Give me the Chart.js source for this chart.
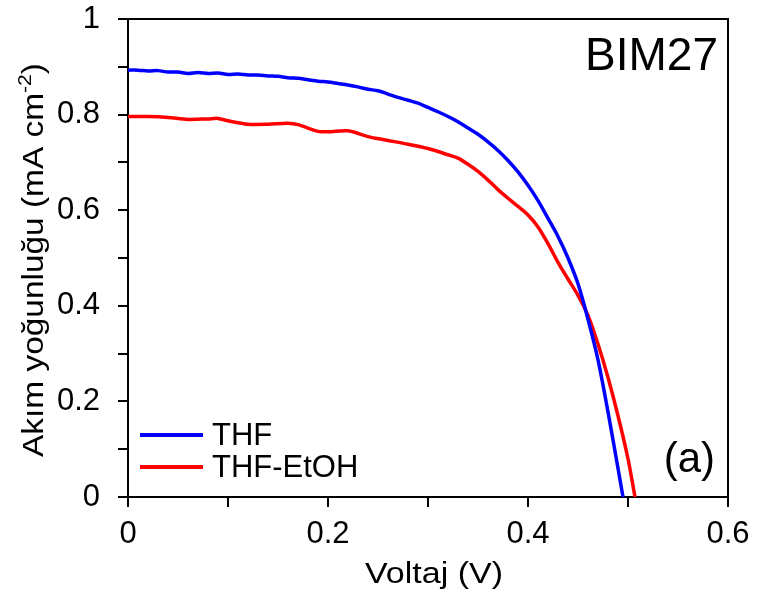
<!DOCTYPE html>
<html>
<head>
<meta charset="utf-8">
<script src="https://cdn.jsdelivr.net/npm/chart.js@4"></script>
<style>
  html, body { margin: 0; padding: 0; background: #fff; }
  canvas { display: block; }
</style>
</head>
<body>
<canvas id="ivChart" width="757" height="603"></canvas>
<script>
// J-V eğrileri
const thfV = [0, 0.01, 0.02, 0.03, 0.04, 0.05, 0.06, 0.07, 0.08, 0.09, 0.10, 0.11, 0.12, 0.13, 0.14, 0.15, 0.16, 0.17, 0.18, 0.19, 0.20, 0.21, 0.22, 0.23, 0.24, 0.25, 0.26, 0.27, 0.28, 0.29, 0.30, 0.31, 0.32, 0.33, 0.34, 0.35, 0.36, 0.37, 0.38, 0.39, 0.40, 0.41, 0.42, 0.43, 0.44, 0.45, 0.46, 0.47, 0.48, 0.49, 0.495];
const thfJ = [0.893, 0.893, 0.891, 0.892, 0.889, 0.889, 0.886, 0.888, 0.886, 0.887, 0.884, 0.885, 0.883, 0.883, 0.881, 0.880, 0.877, 0.876, 0.873, 0.870, 0.868, 0.865, 0.862, 0.858, 0.853, 0.850, 0.843, 0.836, 0.830, 0.824, 0.815, 0.806, 0.796, 0.785, 0.772, 0.759, 0.743, 0.725, 0.704, 0.680, 0.652, 0.620, 0.583, 0.545, 0.500, 0.446, 0.372, 0.287, 0.178, 0.060, 0];

const etohV = [0, 0.02, 0.04, 0.06, 0.08, 0.09, 0.10, 0.12, 0.14, 0.16, 0.17, 0.19, 0.20, 0.22, 0.24, 0.26, 0.28, 0.30, 0.32, 0.33, 0.34, 0.35, 0.36, 0.37, 0.38, 0.39, 0.40, 0.41, 0.42, 0.43, 0.44, 0.45, 0.46, 0.47, 0.48, 0.49, 0.50, 0.507];
const etohJ = [0.796, 0.796, 0.794, 0.790, 0.791, 0.792, 0.787, 0.780, 0.780, 0.782, 0.779, 0.765, 0.764, 0.766, 0.754, 0.746, 0.738, 0.729, 0.716, 0.709, 0.696, 0.681, 0.663, 0.643, 0.625, 0.608, 0.590, 0.565, 0.530, 0.491, 0.456, 0.422, 0.380, 0.320, 0.250, 0.170, 0.080, 0];

const seriesNames = ['THF', 'THF-EtOH'];
const seriesColors = ['#0000ff', '#ff0000'];

function toPoints(xs, ys) {
  return xs.map((x, i) => ({ x: x, y: ys[i] }));
}

const FONT = 'Arial, "Liberation Sans", sans-serif';

// metni verilen uzunluğa yatay olarak esnet
function stretchText(ctx, parts, cx, baseline, targetW) {
  let total = 0;
  parts.forEach(p => { ctx.font = p.size + 'px ' + FONT; p.w = ctx.measureText(p.t).width; total += p.w; });
  const k = targetW / total;
  ctx.save();
  ctx.translate(cx - targetW / 2, baseline);
  ctx.scale(k, 1);
  let x = 0;
  parts.forEach(p => {
    ctx.font = p.size + 'px ' + FONT;
    ctx.fillText(p.t, x, p.dy || 0);
    x += p.w;
  });
  ctx.restore();
}

// çerçeve, eksen başlıkları, lejant ve etiketler
const extras = {
  id: 'extras',
  afterDraw(chart) {
    const ctx = chart.ctx;
    const a = chart.chartArea;
    ctx.save();
    ctx.strokeStyle = '#000';
    ctx.lineWidth = 2;
    ctx.beginPath();
    ctx.moveTo(a.left, a.top);
    ctx.lineTo(a.right, a.top);
    ctx.lineTo(a.right, a.bottom);
    ctx.stroke();

    ctx.fillStyle = '#000';
    ctx.textAlign = 'left';
    ctx.textBaseline = 'alphabetic';

    // x başlığı
    stretchText(ctx, [{ t: 'Voltaj (V)', size: 30 }], 434, 583, 138);

    // y başlığı (üst simgeli)
    ctx.save();
    ctx.translate(43, 260);
    ctx.rotate(-Math.PI / 2);
    stretchText(ctx, [
      { t: 'Akım yoğunluğu (mA cm', size: 30 },
      { t: '-2', size: 19, dy: -12 },
      { t: ')', size: 30 }
    ], 0, 0, 394);
    ctx.restore();

    // sağ üst / sağ alt etiketler
    ctx.textAlign = 'right';
    ctx.font = '46px ' + FONT;
    ctx.fillText('BIM27', 718, 70);
    ctx.font = '42px ' + FONT;
    ctx.fillText('(a)', 715, 472);

    // lejant
    ctx.textAlign = 'left';
    ctx.textBaseline = 'middle';
    ctx.font = '31px ' + FONT;
    const rows = [435, 467];
    chart.data.datasets.forEach((ds, i) => {
      ctx.strokeStyle = ds.borderColor;
      ctx.lineWidth = 4;
      ctx.beginPath();
      ctx.moveTo(140, rows[i]);
      ctx.lineTo(203, rows[i]);
      ctx.stroke();
      ctx.fillStyle = '#000';
      ctx.fillText(ds.label, 212, rows[i] + 1);
    });
    ctx.restore();
  }
};

function tickLabel(v) {
  const k = Math.round(v * 10);
  return k % 2 === 0 ? String(k / 10) : '';
}

const config = {
  type: 'line',
  data: {
    datasets: [
      { label: seriesNames[0], data: toPoints(thfV, thfJ), borderColor: seriesColors[0], borderWidth: 3.5, pointRadius: 0, tension: 0.3, fill: false },
      { label: seriesNames[1], data: toPoints(etohV, etohJ), borderColor: seriesColors[1], borderWidth: 3.5, pointRadius: 0, tension: 0.3, fill: false }
    ]
  },
  options: {
    responsive: false,
    animation: false,
    devicePixelRatio: 1,
    layout: { padding: { left: 0, right: 29, top: 19, bottom: 0 } },
    plugins: { legend: { display: false }, tooltip: { enabled: false } },
    scales: {
      x: {
        type: 'linear',
        min: 0, max: 0.6,
        afterFit: (s) => { s.height = 106; s.paddingLeft = 0; s.paddingRight = 0; },
        border: { display: true, color: '#000', width: 2 },
        grid: { drawOnChartArea: false, drawTicks: true, tickLength: 10, color: '#000', lineWidth: 2 },
        ticks: {
          stepSize: 0.1,
          padding: 9,
          color: '#000',
          font: { family: FONT, size: 31 },
          maxRotation: 0,
          autoSkip: false,
          callback: tickLabel
        }
      },
      y: {
        type: 'linear',
        min: 0, max: 1,
        afterFit: (s) => { s.width = 128; s.paddingTop = 0; s.paddingBottom = 0; },
        border: { display: true, color: '#000', width: 2 },
        grid: { drawOnChartArea: false, drawTicks: true, tickLength: 10, color: '#000', lineWidth: 2 },
        ticks: {
          stepSize: 0.1,
          padding: 18,
          color: '#000',
          font: { family: FONT, size: 31 },
          autoSkip: false,
          callback: tickLabel
        }
      }
    }
  },
  plugins: [extras]
};

const ivChart = new Chart(document.getElementById('ivChart').getContext('2d'), config);
</script>
</body>
</html>
